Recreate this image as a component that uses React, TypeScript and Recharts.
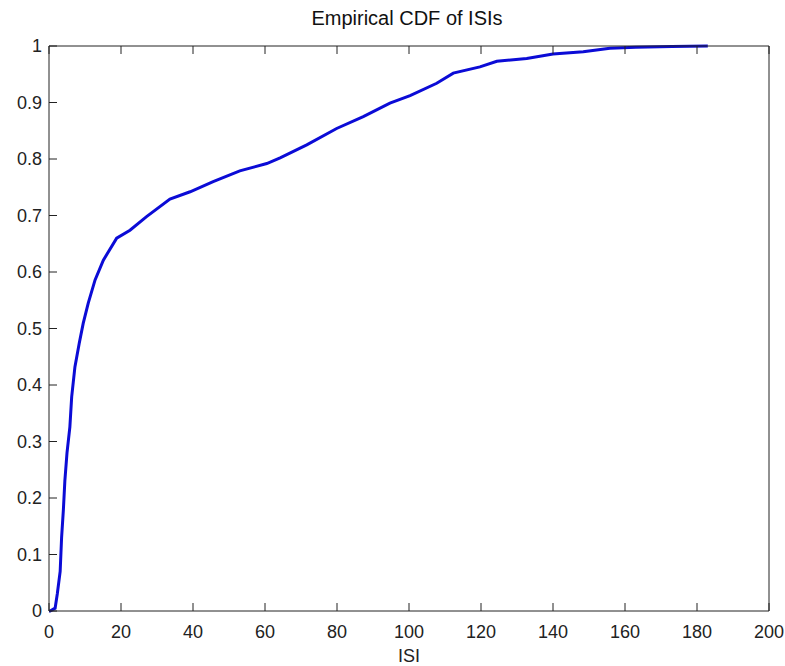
import { LineChart, Line, XAxis, YAxis } from 'recharts';

const isiValues = [
    0, 0.3, 1.7, 2.3, 3.1, 3.5, 4.0, 4.4, 5.0, 5.8, 6.3, 7.2, 8.4, 9.5, 10.9, 12.8, 15.1,
    18.8, 22.5, 27.1, 33.6, 39.2, 45.6, 53, 60.5, 64.2, 71.6, 79.9, 87.3, 94.7, 100.3,
    107.7, 112.3, 119.7, 124.4, 132.7, 140, 148.4, 155.8, 163, 173, 183,
];
const cdfValues = [
    0, 0, 0.005, 0.03, 0.07, 0.13, 0.18, 0.23, 0.28, 0.326, 0.379, 0.432, 0.474, 0.509, 0.545, 0.586, 0.621,
    0.66, 0.674, 0.698, 0.729, 0.742, 0.76, 0.779, 0.792, 0.802, 0.825, 0.854, 0.875, 0.899, 0.912,
    0.934, 0.952, 0.963, 0.973, 0.978, 0.986, 0.99, 0.996, 0.998, 0.999, 1,
];
const xTicks = [0, 20, 40, 60, 80, 100, 120, 140, 160, 180, 200];
const yTicks = [0, 0.1, 0.2, 0.3, 0.4, 0.5, 0.6, 0.7, 0.8, 0.9, 1];

const data = isiValues.map((x, i) => ({ x, y: cdfValues[i] }));

const FONT = '"Liberation Sans", Arial, sans-serif';
const AXIS = '#222';
const TICK_LEN = 8;

// matlab style: tick marks point into the plot
function BottomTick({ x, y, payload }: any) {
    return (
        <g>
            <line x1={x} x2={x} y1={y} y2={y - TICK_LEN} stroke={AXIS} />
            <text x={x} y={y + 27} textAnchor="middle" fontSize={18} fontFamily={FONT} fill="#222">
                {payload.value}
            </text>
        </g>
    );
}

function LeftTick({ x, y, payload }: any) {
    return (
        <g>
            <line x1={x} x2={x + TICK_LEN} y1={y} y2={y} stroke={AXIS} />
            <text x={x - 7} y={y + 6} textAnchor="end" fontSize={18} fontFamily={FONT} fill="#222">
                {payload.value}
            </text>
        </g>
    );
}

function TopTick({ x, y }: any) {
    return <line x1={x} x2={x} y1={y} y2={y + TICK_LEN} stroke={AXIS} />;
}

function RightTick({ x, y }: any) {
    return <line x1={x} x2={x - TICK_LEN} y1={y} y2={y} stroke={AXIS} />;
}

export default function App() {
    return (
        <div style={{ position: 'absolute', left: 0, top: 0, width: 785, height: 666, background: '#fff' }}>
            <div
                style={{
                    position: 'absolute',
                    left: 0,
                    width: 814,
                    top: 7,
                    textAlign: 'center',
                    fontFamily: FONT,
                    fontSize: 20,
                    color: '#111',
                }}
            >
                Empirical CDF of ISIs
            </div>
            <LineChart width={785} height={666} data={data} margin={{ top: 16, right: 0, bottom: 0, left: 0 }}>
                <XAxis
                    dataKey="x"
                    type="number"
                    domain={[0, 200]}
                    ticks={xTicks}
                    interval={0}
                    height={55}
                    stroke={AXIS}
                    tickLine={false}
                    tickSize={0}
                    tickMargin={0}
                    tick={<BottomTick />}
                    label={{ value: 'ISI', position: 'insideBottom', offset: 4, style: { fontSize: 18, fill: '#222', fontFamily: FONT } }}
                />
                <XAxis
                    xAxisId="top"
                    orientation="top"
                    dataKey="x"
                    type="number"
                    domain={[0, 200]}
                    ticks={xTicks}
                    interval={0}
                    height={30}
                    stroke={AXIS}
                    tickLine={false}
                    tickSize={0}
                    tickMargin={0}
                    tick={<TopTick />}
                />
                <YAxis
                    type="number"
                    domain={[0, 1]}
                    ticks={yTicks}
                    interval={0}
                    width={49}
                    stroke={AXIS}
                    tickLine={false}
                    tickSize={0}
                    tickMargin={0}
                    tick={<LeftTick />}
                />
                <YAxis
                    yAxisId="right"
                    orientation="right"
                    type="number"
                    domain={[0, 1]}
                    ticks={yTicks}
                    interval={0}
                    width={16}
                    stroke={AXIS}
                    tickLine={false}
                    tickSize={0}
                    tickMargin={0}
                    tick={<RightTick />}
                />
                <Line
                    type="linear"
                    dataKey="y"
                    stroke="#0b0bd6"
                    strokeWidth={3}
                    dot={false}
                    isAnimationActive={false}
                />
            </LineChart>
        </div>
    );
}
